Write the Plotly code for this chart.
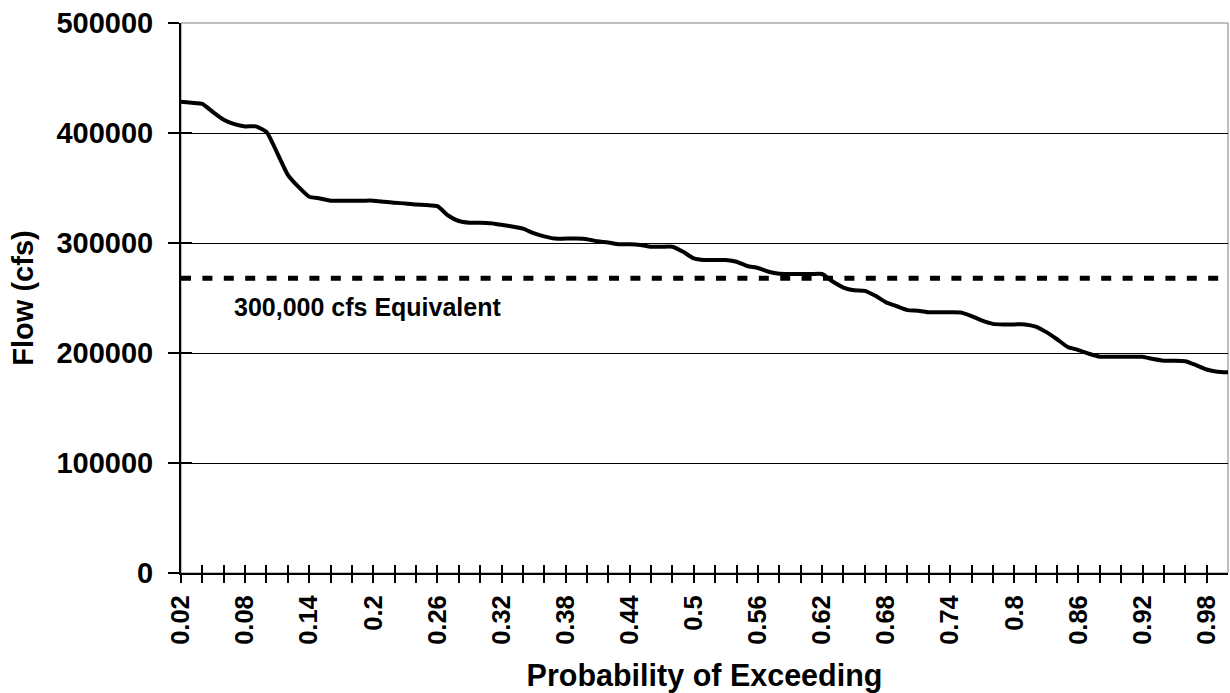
import plotly.graph_objects as go

# ---- data ----
prob = [0.02, 0.03, 0.04, 0.05, 0.06, 0.07, 0.08, 0.09, 0.10, 0.11,
        0.12, 0.13, 0.14, 0.15, 0.16, 0.17, 0.18, 0.19, 0.20, 0.21,
        0.22, 0.23, 0.24, 0.25, 0.26, 0.27, 0.28, 0.29, 0.30, 0.31,
        0.32, 0.33, 0.34, 0.35, 0.36, 0.37, 0.38, 0.39, 0.40, 0.41,
        0.42, 0.43, 0.44, 0.45, 0.46, 0.47, 0.48, 0.49, 0.50, 0.51,
        0.52, 0.53, 0.54, 0.55, 0.56, 0.57, 0.58, 0.59, 0.60, 0.61,
        0.62, 0.63, 0.64, 0.65, 0.66, 0.67, 0.68, 0.69, 0.70, 0.71,
        0.72, 0.73, 0.74, 0.75, 0.76, 0.77, 0.78, 0.79, 0.80, 0.81,
        0.82, 0.83, 0.84, 0.85, 0.86, 0.87, 0.88, 0.89, 0.90, 0.91,
        0.92, 0.93, 0.94, 0.95, 0.96, 0.97, 0.98, 0.99, 1.00]

flow = [428500, 427500, 426500, 419000, 412000, 408000, 406000, 406000, 401000, 382000,
        362000, 351000, 342000, 340500, 338500, 338500, 338500, 338500, 338500, 337500,
        336500, 336000, 335000, 334500, 333500, 325000, 320000, 318500, 318500, 318000,
        316500, 315000, 313000, 309000, 306000, 304000, 304000, 304000, 303500, 301500,
        300500, 298800, 298800, 298200, 296600, 296600, 296600, 292000, 286000, 284500,
        284500, 284500, 283000, 279100, 277300, 273900, 272000, 271800, 271800, 271800,
        271800, 265000, 259500, 257000, 256500, 252000, 246000, 242500, 239000, 238500,
        237000, 237000, 237000, 236800, 233500, 229400, 226500, 226000, 226000, 226000,
        224000, 219000, 212500, 205500, 202700, 199300, 196600, 196600, 196600, 196600,
        196600, 194500, 193000, 193000, 192500, 189000, 185000, 183000, 182500]

equivalent_flow = [268000] * len(prob)
equivalent_label = "300,000 cfs Equivalent"

tick_labels = ["0.02", "0.08", "0.14", "0.2", "0.26", "0.32", "0.38", "0.44", "0.5",
               "0.56", "0.62", "0.68", "0.74", "0.8", "0.86", "0.92", "0.98"]
y_ticks = [0, 100000, 200000, 300000, 400000, 500000]
y_tick_text = ["0", "100000", "200000", "300000", "400000", "500000"]

assert len(prob) == len(flow)

# tick marks every second category, labels every sixth
tick_vals = prob[0:97:2]
tick_text = [("%g" % v) if ("%g" % v) in tick_labels else "" for v in tick_vals]

FONT = "Liberation Sans, Arial, Helvetica, sans-serif"

fig = go.Figure()
fig.add_trace(go.Scatter(x=prob, y=flow, mode="lines",
                         line=dict(color="black", width=4, shape="spline", smoothing=0.5),
                         hoverinfo="skip", showlegend=False))
fig.add_trace(go.Scatter(x=prob, y=equivalent_flow, mode="lines",
                         line=dict(color="black", width=5, dash="10px,11.4px"),
                         xaxis="x2", yaxis="y2",
                         hoverinfo="skip", showlegend=False))

xr = [prob[0], prob[-1]]
yr = [0, 500000]

fig.update_layout(
    width=1230, height=693,
    margin=dict(l=181, r=2, t=23, b=120),
    paper_bgcolor="white", plot_bgcolor="white",
    font=dict(family=FONT, color="black"),
    xaxis=dict(range=xr, tickmode="array", tickvals=tick_vals, ticktext=tick_text,
               tickangle=-90, ticks="outside", ticklen=8, tickwidth=2, tickcolor="black",
               tickfont=dict(size=25.5, weight="bold"), ticklabelstandoff=2,
               showline=True, linecolor="black", linewidth=2, showgrid=False,
               zeroline=False, automargin=False, ticklabeloverflow="allow",
               title=dict(text="Probability of Exceeding", standoff=27,
                          font=dict(size=30.5, weight="bold"))),
    yaxis=dict(range=yr, tickmode="array", tickvals=y_ticks, ticktext=y_tick_text,
               ticks="outside", ticklen=11, tickwidth=2, tickcolor="black",
               tickfont=dict(size=29, weight="bold"), ticklabelstandoff=9,
               showline=True, linecolor="black", linewidth=2,
               showgrid=True, gridcolor="black", gridwidth=1,
               zeroline=False, automargin=False, ticklabeloverflow="allow",
               title=dict(text="Flow (cfs)", standoff=14,
                          font=dict(size=29, weight="bold"))),
    xaxis2=dict(overlaying="x", anchor="y2", matches="x", range=xr,
                tickmode="array", tickvals=tick_vals, showticklabels=False,
                ticks="inside", ticklen=8, tickwidth=2, tickcolor="black",
                showline=False, showgrid=False, zeroline=False),
    yaxis2=dict(overlaying="y", anchor="x2", side="left", matches="y", range=yr,
                tickmode="array", tickvals=y_ticks, showticklabels=False,
                ticks="inside", ticklen=11, tickwidth=2, tickcolor="black",
                showline=False, showgrid=False, zeroline=False),
    shapes=[dict(type="rect", xref="paper", yref="paper", x0=0, x1=1, y0=0, y1=1,
                 line=dict(color="#808080", width=1), layer="between")],
    annotations=[dict(x=0.068, y=241800, xref="x", yref="y", text=equivalent_label,
                      showarrow=False, xanchor="left", yanchor="middle",
                      font=dict(size=25, weight="bold", family=FONT))],
)

fig.write_html("out.html",
               config={"displayModeBar": False, "staticPlot": True},
               post_script="document.body.style.margin='0';document.body.style.overflow='hidden';")
